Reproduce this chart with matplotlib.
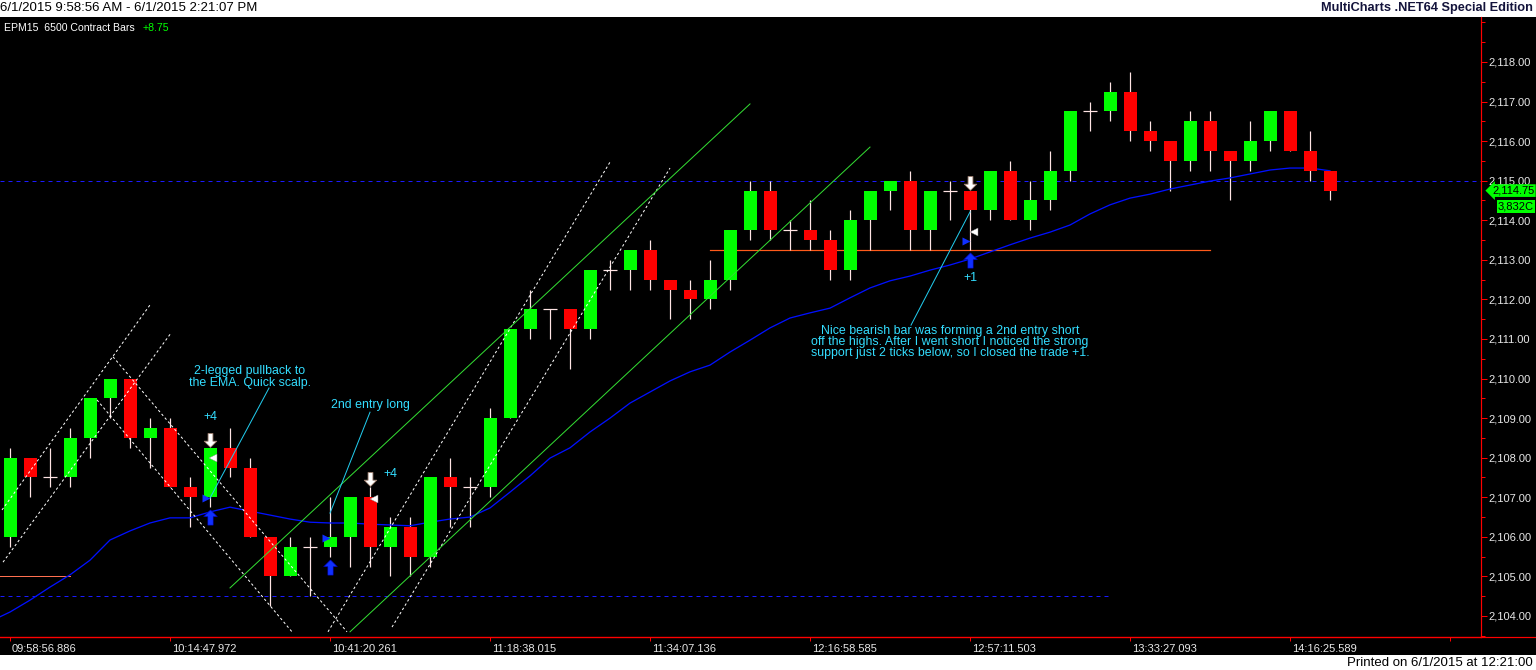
import numpy as np
import matplotlib.pyplot as plt
from matplotlib.path import Path
from matplotlib.patches import Rectangle
from matplotlib.lines import Line2D
from matplotlib.ticker import FuncFormatter, FixedLocator, MultipleLocator
import matplotlib.transforms as mtransforms

# ===================== 全局设置 =====================
plt.rcParams['font.family'] = ['Liberation Sans', 'DejaVu Sans']

W, H = 1536, 670
PX = 0.72  # 1 px in points at dpi 100

GREEN = '#00ff00'
RED = '#ff0000'
WICK = '#ffe4e4'
CYAN = '#33ddff'
EMA_BLUE = '#0010ff'

# ===================== 数据 =====================
opens = [2106, 2108, 2107.5, 2107.5, 2108.5, 2109.5, 2110, 2108.5, 2108.75, 2107.25,
         2107, 2108.25, 2107.75, 2106, 2105, 2105.75, 2105.75, 2106, 2107, 2105.75,
         2106.25, 2105.5, 2107.5, 2107.25, 2107.25, 2109, 2111.25, 2111.75, 2111.75, 2111.25,
         2112.75, 2112.75, 2113.25, 2112.5, 2112.25, 2112, 2112.5, 2113.75, 2114.75, 2113.75,
         2113.75, 2113.5, 2112.75, 2114, 2114.75, 2115, 2113.75, 2114.75, 2114.75, 2114.25,
         2115.25, 2114, 2114.5, 2115.25, 2116.75, 2116.75, 2117.25, 2116.25, 2116, 2115.5,
         2116.5, 2115.75, 2115.5, 2116, 2116.75, 2115.75, 2115.25]
highs = [2108.25, 2108, 2108.25, 2108.75, 2109.5, 2110, 2110, 2109, 2109, 2107.5,
         2108.25, 2108.75, 2108, 2106, 2106, 2106, 2107, 2107, 2107.25, 2106.5,
         2106.5, 2107.5, 2108, 2107.5, 2109.25, 2111.25, 2112.25, 2111.75, 2111.75, 2112.75,
         2113, 2113.25, 2113.5, 2112.5, 2112.5, 2113, 2113.75, 2115, 2115, 2114,
         2114.5, 2113.75, 2114.25, 2114.75, 2115, 2115.25, 2114.75, 2115, 2114.75, 2115.25,
         2115.5, 2115, 2115.75, 2116.75, 2117, 2117.5, 2117.75, 2116.5, 2116, 2116.75,
         2116.75, 2115.75, 2116.5, 2116.75, 2116.75, 2116.25, 2115.25]
lows = [2105.75, 2107, 2107.25, 2107.25, 2108, 2109, 2108.25, 2107.75, 2107.25, 2106.25,
        2106.75, 2107.5, 2106, 2104.25, 2105, 2104.5, 2105.5, 2105.25, 2105.25, 2105,
        2105, 2105.25, 2106.25, 2106.25, 2107, 2109, 2111, 2111, 2110.25, 2111,
        2112.25, 2112.25, 2112.25, 2111.5, 2111.5, 2111.75, 2112.25, 2113.5, 2113.5, 2113.25,
        2113.25, 2112.5, 2112.5, 2113.25, 2114.25, 2113.25, 2113.25, 2114, 2113.25, 2114,
        2114, 2113.75, 2114.25, 2115, 2116.25, 2116.5, 2116, 2115.75, 2114.75, 2115.25,
        2115.25, 2114.5, 2115.25, 2115.75, 2115.75, 2115, 2114.5]
closes = [2108, 2107.5, 2107.5, 2108.5, 2109.5, 2110, 2108.5, 2108.75, 2107.25, 2107,
          2108.25, 2107.75, 2106, 2105, 2105.75, 2105.75, 2106, 2107, 2105.75, 2106.25,
          2105.5, 2107.5, 2107.25, 2107.25, 2109, 2111.25, 2111.75, 2111.75, 2111.25, 2112.75,
          2112.75, 2113.25, 2112.5, 2112.25, 2112, 2112.5, 2113.75, 2114.75, 2113.75, 2113.75,
          2113.5, 2112.75, 2114, 2114.75, 2115, 2113.75, 2114.75, 2114.75, 2114.25, 2115.25,
          2114, 2114.5, 2115.25, 2116.75, 2116.75, 2117.25, 2116.25, 2116, 2115.5, 2116.5,
          2115.75, 2115.5, 2116, 2116.75, 2115.75, 2115.25, 2114.75]
ema_bars = [-0.5] + list(range(67))
ema = [2103.98, 2104.10, 2104.40, 2104.73, 2105.04, 2105.41, 2105.92, 2106.15, 2106.35, 2106.48,
       2106.48, 2106.63, 2106.75, 2106.65, 2106.55, 2106.45, 2106.37, 2106.35, 2106.35, 2106.32,
       2106.30, 2106.28, 2106.37, 2106.45, 2106.50, 2106.73, 2107.13, 2107.54, 2107.99, 2108.25,
       2108.65, 2109.00, 2109.38, 2109.66, 2109.94, 2110.17, 2110.34, 2110.67, 2110.97, 2111.28,
       2111.53, 2111.66, 2111.78, 2112.04, 2112.29, 2112.47, 2112.59, 2112.74, 2112.87, 2113.02,
       2113.20, 2113.38, 2113.55, 2113.70, 2113.88, 2114.16, 2114.39, 2114.56, 2114.66, 2114.79,
       2114.89, 2114.99, 2115.07, 2115.17, 2115.27, 2115.32, 2115.32, 2115.25]

time_tick_bars = [0, 8, 16, 24, 32, 40, 48, 56, 64, 72]
time_tick_labels = ['09:58:56.886', '10:14:47.972', '10:41:20.261', '11:18:38.015',
                    '11:34:07.136', '12:16:58.585', '12:57:11.503', '13:33:27.093',
                    '14:16:25.589', '']
price_ticks = list(range(2104, 2119))

# 趋势线 (bar0, price0, bar1, price1)
white_dash_lines = [(-0.4, 2106.68, 7.0, 2111.86),
                    (-0.35, 2105.36, 8.05, 2111.15),
                    (4.35, 2109.46, 14.15, 2103.57),
                    (5.15, 2110.55, 16.85, 2103.60),
                    (15.9, 2103.60, 30.0, 2115.47),
                    (19.1, 2103.72, 33.0, 2115.32)]
green_lines = [(11.0, 2104.71, 37.0, 2116.94),
               (17.0, 2103.60, 43.0, 2115.85)]
cyan_pointers = [(12.95, 2109.76, 10.0, 2106.98),
                 (18.0, 2109.15, 16.0, 2106.60),
                 (48.0, 2114.21, 45.05, 2111.35)]

support_level = 2113.25
support_span = (35.0, 60.0)
prev_level = 2105.0
prev_span = (-0.5, 3.0)
dash_levels = [2115.0, 2104.5]
dash_ends = [73.6, 55.0]

# 交易标记
entry_arrow_bars = [10, 16, 48]
entry_arrow_prices = [2106.50, 2105.24, 2113.00]
entry_tri_bars = [9.8, 15.8, 47.8]
entry_tri_prices = [2106.98, 2105.97, 2113.48]
exit_arrow_bars = [10, 18, 48]
exit_arrow_prices = [2108.45, 2107.46, 2114.94]
exit_tri_bars = [10.15, 18.2, 48.2]
exit_tri_prices = [2108.0, 2106.96, 2113.70]

notes = [(12.0, 2110.04, '2-legged pullback to\nthe EMA. Quick scalp.'),
         (10.0, 2109.03, '+4'),
         (18.0, 2109.33, '2nd entry long'),
         (19.0, 2107.59, '+4'),
         (48.0, 2112.54, '+1'),
         (47.0, 2110.92, 'Nice bearish bar was forming a 2nd entry short\n'
                         'off the highs. After I went short I noticed the strong\n'
                         'support just 2 ticks below, so I closed the trade +1.')]

last_price = 2114.75
volume_label = '3,832C'

# ===================== 绘图 =====================
fig = plt.figure(figsize=(W / 100, H / 100), dpi=100, facecolor='white')
fig.patches.append(Rectangle((0, 15 / H), 1, 638 / H, transform=fig.transFigure,
                             facecolor='black', edgecolor='none', zorder=-10))

ax = fig.add_axes([0, 33 / H, 1481 / W, 620 / H])
ax.set_facecolor('black')
ax.set_xlim(-0.5, 73.55)
ax.set_ylim(2103.469, 2119.137)

# 水平参考线
for lvl, end in zip(dash_levels, dash_ends):
    ax.plot([-0.5, end], [lvl, lvl], color='#1a1aff', lw=PX, ls=(0, (4, 4)), zorder=1)
ax.plot(support_span, [support_level] * 2, color='#ff5a1a', lw=1.2 * PX, zorder=2)
ax.plot(prev_span, [prev_level] * 2, color='#ff7050', lw=PX, zorder=2)

# 趋势线
for x0, y0, x1, y1 in white_dash_lines:
    ax.plot([x0, x1], [y0, y1], color='white', lw=PX, ls=(0, (2.5, 2.5)), zorder=4)
for x0, y0, x1, y1 in green_lines:
    ax.plot([x0, x1], [y0, y1], color='#33dd33', lw=PX, zorder=4)

# 均线
ax.plot(ema_bars, ema, color=EMA_BLUE, lw=1.3 * PX, zorder=3)

# K线
x = np.arange(len(opens))
o, h, l, c = map(np.array, (opens, highs, lows, closes))
ax.vlines(x, l, h, color=WICK, lw=1.2 * PX, zorder=2.5)
up = c > o
dn = c < o
fl = c == o
ax.bar(x[up], c[up] - o[up], bottom=o[up], width=0.65, color=GREEN, lw=0, zorder=3.5)
ax.bar(x[dn], o[dn] - c[dn], bottom=c[dn], width=0.65, color=RED, lw=0, zorder=3.5)
ax.hlines(c[fl], x[fl] - 0.36, x[fl] + 0.36, color=WICK, lw=1.2 * PX, zorder=3.5)

# 指引线
for x0, y0, x1, y1 in cyan_pointers:
    ax.plot([x0, x1], [y0, y1], color='#22ccee', lw=PX, zorder=5)

# 箭头标记
up_arrow = Path([(0, 1), (0.9, 0.1), (0.35, 0.1), (0.35, -1), (-0.35, -1),
                 (-0.35, 0.1), (-0.9, 0.1), (0, 1)],
                [Path.MOVETO] + [Path.LINETO] * 6 + [Path.CLOSEPOLY])
down_arrow = Path([(vx, -vy) for vx, vy in up_arrow.vertices], up_arrow.codes)
ax.plot(entry_arrow_bars, entry_arrow_prices, ls='none', marker=up_arrow, ms=11,
        mfc='#1030ff', mec='#0000aa', mew=0.4, zorder=6)
ax.plot(exit_arrow_bars, exit_arrow_prices, ls='none', marker=down_arrow, ms=10,
        mfc='white', mec='#a08070', mew=0.6, zorder=6)
ax.plot(entry_tri_bars, entry_tri_prices, ls='none', marker='>', ms=6,
        mfc='#1030ff', mec='none', zorder=6)
ax.plot(exit_tri_bars, exit_tri_prices, ls='none', marker='<', ms=6,
        mfc='white', mec='#888888', mew=0.3, zorder=6)

# 注释文字
for nx, ny, txt in notes:
    ax.text(nx, ny, txt, color=CYAN, fontsize=8.9, ha='center', va='center',
            linespacing=0.92, zorder=7)

# 坐标轴
for side in ('left', 'top'):
    ax.spines[side].set_visible(False)
for side in ('right', 'bottom'):
    ax.spines[side].set_color('red')
    ax.spines[side].set_linewidth(1.2 * PX)

ax.yaxis.tick_right()
ax.yaxis.set_major_locator(FixedLocator(price_ticks))
ax.yaxis.set_minor_locator(MultipleLocator(0.5))
ax.yaxis.set_major_formatter(FuncFormatter(lambda v, pos: f'{v:,.2f}'))
ax.tick_params(axis='y', which='major', colors='red', labelcolor='#e8e8e8',
               length=4, width=PX, pad=1.5, labelsize=8)
ax.tick_params(axis='y', which='minor', colors='red', length=3, width=PX)

ax.set_xticks(time_tick_bars)
ax.set_xticklabels(time_tick_labels)
ax.tick_params(axis='x', colors='red', labelcolor='#e8e8e8', length=3, width=PX,
               pad=2, labelsize=8)
shift = mtransforms.ScaledTranslation(2 / 100, 0, fig.dpi_scale_trans)
for lab in ax.get_xticklabels():
    lab.set_ha('left')
    lab.set_transform(lab.get_transform() + shift)

fig.add_artist(Line2D([0, 1], [33 / H, 33 / H], transform=fig.transFigure,
                      color='red', lw=1.2 * PX))

# 价格标签
ax.text(1.0075, last_price, f'{last_price:,.2f}', transform=ax.get_yaxis_transform(),
        ha='left', va='center', fontsize=8, color='black', zorder=8, clip_on=False,
        bbox=dict(boxstyle='larrow,pad=0.12', fc=GREEN, ec='none'))
ax.text(1.0115, last_price - 0.40, volume_label, transform=ax.get_yaxis_transform(),
        ha='left', va='center', fontsize=8, color='black', zorder=8, clip_on=False,
        bbox=dict(boxstyle='square,pad=0.12', fc=GREEN, ec='none'))

# 标题与页脚
fig.text(0.5 / W, 1 - 8 / H, '6/1/2015 9:58:56 AM - 6/1/2015 2:21:07 PM',
         ha='left', va='center', fontsize=9.5, color='black')
fig.text(1533 / W, 1 - 8 / H, 'MultiCharts .NET64 Special Edition',
         ha='right', va='center', fontsize=9.2, fontweight='bold', color='#14143c')
fig.text(1533 / W, 7 / H, 'Printed on 6/1/2015 at 12:21:00',
         ha='right', va='center', fontsize=9.5, color='black')
fig.text(4 / W, 1 - 28 / H, 'EPM15  6500 Contract Bars', ha='left', va='center',
         fontsize=7.6, color='white')
fig.text(143 / W, 1 - 28 / H, '+8.75', ha='left', va='center', fontsize=7.6, color=GREEN)

fig.savefig('out.png', dpi=100, facecolor=fig.get_facecolor())
